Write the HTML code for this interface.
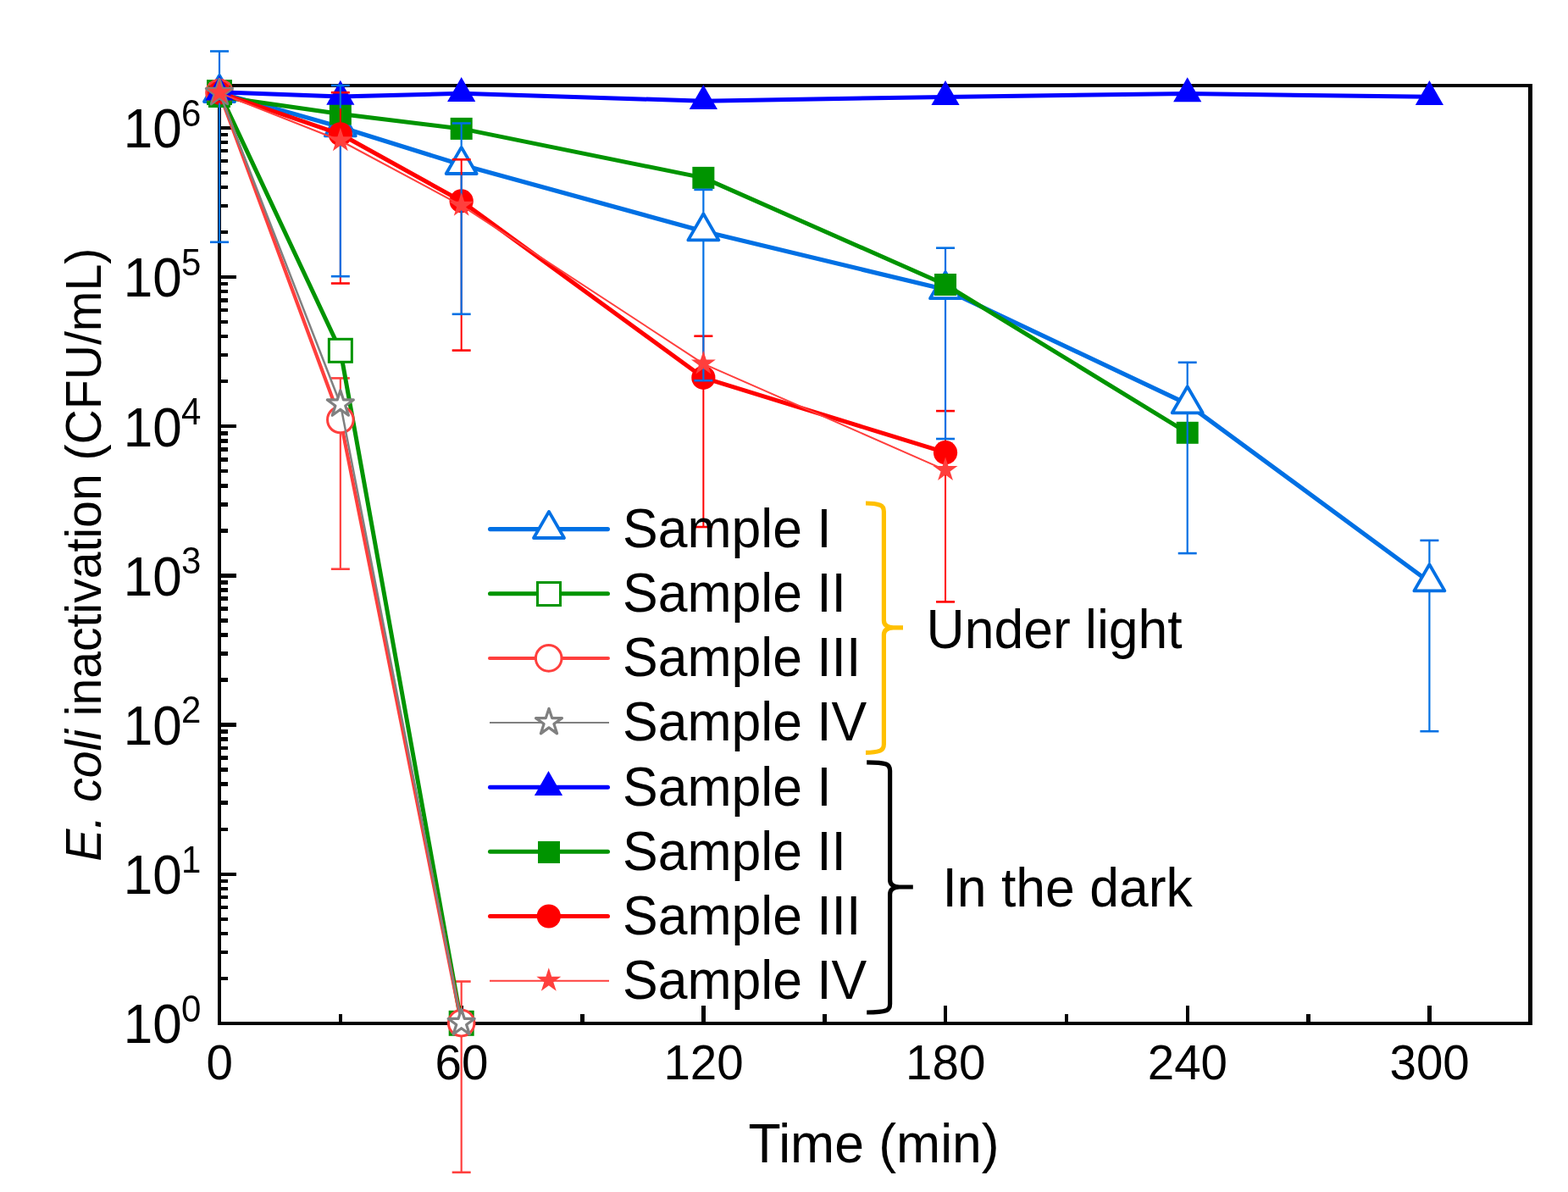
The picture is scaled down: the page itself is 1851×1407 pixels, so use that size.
<!DOCTYPE html>
<html lang="en">
<head>
<meta charset="utf-8">
<title>E. coli inactivation</title>
<style>
html,body{margin:0;padding:0;background:#fff;}
body{width:1851px;height:1407px;overflow:hidden;position:relative;}
svg text{font-kerning:normal;}
</style>
</head>
<body>
<svg width="1851" height="1407" viewBox="0 0 1851 1407" role="img" aria-label="E. coli inactivation versus time" style="display:block;position:absolute;left:0;top:0">
<rect x="0" y="0" width="1851" height="1407" fill="#fff"/>
<g fill="#000" shape-rendering="crispEdges">
<rect x="257" y="99" width="1552" height="4"/>
<rect x="257" y="1206" width="1552" height="4"/>
<rect x="257" y="99" width="4" height="1111"/>
<rect x="1804" y="99" width="5" height="1111"/>
<rect x="400" y="1197" width="4" height="9"/>
<rect x="542" y="1187" width="5" height="19"/>
<rect x="685" y="1197" width="5" height="9"/>
<rect x="828" y="1187" width="5" height="19"/>
<rect x="971" y="1197" width="5" height="9"/>
<rect x="1114" y="1187" width="4" height="19"/>
<rect x="1257" y="1197" width="4" height="9"/>
<rect x="1400" y="1187" width="4" height="19"/>
<rect x="1542" y="1197" width="5" height="9"/>
<rect x="1685" y="1187" width="5" height="19"/>
<rect x="261" y="1153" width="8" height="4"/>
<rect x="261" y="1122" width="8" height="4"/>
<rect x="261" y="1100" width="8" height="4"/>
<rect x="261" y="1083" width="8" height="4"/>
<rect x="261" y="1069" width="8" height="4"/>
<rect x="261" y="1057" width="8" height="4"/>
<rect x="261" y="1047" width="8" height="4"/>
<rect x="261" y="1038" width="8" height="4"/>
<rect x="261" y="1030" width="18" height="4"/>
<rect x="261" y="977" width="8" height="4"/>
<rect x="261" y="945" width="8" height="5"/>
<rect x="261" y="923" width="8" height="5"/>
<rect x="261" y="906" width="8" height="5"/>
<rect x="261" y="892" width="8" height="5"/>
<rect x="261" y="881" width="8" height="4"/>
<rect x="261" y="870" width="8" height="5"/>
<rect x="261" y="861" width="8" height="5"/>
<rect x="261" y="853" width="18" height="5"/>
<rect x="261" y="800" width="8" height="5"/>
<rect x="261" y="769" width="8" height="5"/>
<rect x="261" y="747" width="8" height="5"/>
<rect x="261" y="730" width="8" height="5"/>
<rect x="261" y="716" width="8" height="5"/>
<rect x="261" y="704" width="8" height="5"/>
<rect x="261" y="694" width="8" height="5"/>
<rect x="261" y="685" width="8" height="5"/>
<rect x="261" y="677" width="18" height="5"/>
<rect x="261" y="624" width="8" height="5"/>
<rect x="261" y="593" width="8" height="5"/>
<rect x="261" y="571" width="8" height="5"/>
<rect x="261" y="554" width="8" height="4"/>
<rect x="261" y="540" width="8" height="5"/>
<rect x="261" y="528" width="8" height="5"/>
<rect x="261" y="518" width="8" height="5"/>
<rect x="261" y="509" width="8" height="5"/>
<rect x="261" y="501" width="18" height="4"/>
<rect x="261" y="448" width="8" height="4"/>
<rect x="261" y="417" width="8" height="4"/>
<rect x="261" y="395" width="8" height="4"/>
<rect x="261" y="378" width="8" height="4"/>
<rect x="261" y="364" width="8" height="4"/>
<rect x="261" y="352" width="8" height="5"/>
<rect x="261" y="342" width="8" height="4"/>
<rect x="261" y="333" width="8" height="4"/>
<rect x="261" y="325" width="18" height="4"/>
<rect x="261" y="272" width="8" height="4"/>
<rect x="261" y="241" width="8" height="4"/>
<rect x="261" y="219" width="8" height="4"/>
<rect x="261" y="202" width="8" height="4"/>
<rect x="261" y="188" width="8" height="4"/>
<rect x="261" y="176" width="8" height="4"/>
<rect x="261" y="166" width="8" height="4"/>
<rect x="261" y="157" width="8" height="4"/>
<rect x="261" y="149" width="18" height="4"/>
</g>
<g font-family="'Liberation Sans', sans-serif" fill="#000">
<text transform="translate(259.2 1274.2) scale(1 1.03)" font-size="56.5" text-anchor="middle">0</text>
<text transform="translate(544.88 1274.2) scale(1 1.03)" font-size="56.5" text-anchor="middle">60</text>
<text transform="translate(830.56 1274.2) scale(1 1.03)" font-size="56.5" text-anchor="middle">120</text>
<text transform="translate(1116.24 1274.2) scale(1 1.03)" font-size="56.5" text-anchor="middle">180</text>
<text transform="translate(1401.92 1274.2) scale(1 1.03)" font-size="56.5" text-anchor="middle">240</text>
<text transform="translate(1687.6 1274.2) scale(1 1.03)" font-size="56.5" text-anchor="middle">300</text>
<text transform="translate(145.8 1231.3) scale(1 1.04)" font-size="62" text-anchor="start">10</text>
<text transform="translate(214 1205.7) scale(1 1.04)" font-size="42" text-anchor="start">0</text>
<text transform="translate(145.8 1055.1) scale(1 1.04)" font-size="62" text-anchor="start">10</text>
<text transform="translate(214 1029.5) scale(1 1.04)" font-size="42" text-anchor="start">1</text>
<text transform="translate(145.8 878.9) scale(1 1.04)" font-size="62" text-anchor="start">10</text>
<text transform="translate(214 853.3) scale(1 1.04)" font-size="42" text-anchor="start">2</text>
<text transform="translate(145.8 702.7) scale(1 1.04)" font-size="62" text-anchor="start">10</text>
<text transform="translate(214 677.1) scale(1 1.04)" font-size="42" text-anchor="start">3</text>
<text transform="translate(145.8 526.5) scale(1 1.04)" font-size="62" text-anchor="start">10</text>
<text transform="translate(214 500.9) scale(1 1.04)" font-size="42" text-anchor="start">4</text>
<text transform="translate(145.8 350.3) scale(1 1.04)" font-size="62" text-anchor="start">10</text>
<text transform="translate(214 324.7) scale(1 1.04)" font-size="42" text-anchor="start">5</text>
<text transform="translate(145.8 174.1) scale(1 1.04)" font-size="62" text-anchor="start">10</text>
<text transform="translate(214 148.5) scale(1 1.04)" font-size="42" text-anchor="start">6</text>
<text transform="translate(1031.5 1371.7) scale(1 1.03)" font-size="62.5" text-anchor="middle">Time (min)</text>
<text transform="translate(119.2 654.7) rotate(-90) scale(1 1.03)" font-size="57.15" text-anchor="middle"><tspan font-style="italic">E. coli</tspan> inactivation (CFU/mL)</text>
</g>
<polyline points="259,109.6 401.84,150 544.68,194.6 830.36,273 1116.04,341.8 1401.72,476.9 1687.4,687" fill="none" stroke="#0070E4" stroke-width="5.2" stroke-linejoin="round" stroke-linecap="butt"/>
<polygon points="259,88.9 277,120 241,120" fill="#fff" stroke="#0070E4" stroke-width="3.8" stroke-linejoin="round"/>
<polygon points="401.84,129.3 419.84,160.4 383.84,160.4" fill="#fff" stroke="#0070E4" stroke-width="3.8" stroke-linejoin="round"/>
<polygon points="544.68,173.9 562.68,205 526.68,205" fill="#fff" stroke="#0070E4" stroke-width="3.8" stroke-linejoin="round"/>
<polygon points="830.36,252.3 848.36,283.4 812.36,283.4" fill="#fff" stroke="#0070E4" stroke-width="3.8" stroke-linejoin="round"/>
<polygon points="1116.04,321.1 1134.04,352.2 1098.04,352.2" fill="#fff" stroke="#0070E4" stroke-width="3.8" stroke-linejoin="round"/>
<polygon points="1401.72,456.2 1419.72,487.3 1383.72,487.3" fill="#fff" stroke="#0070E4" stroke-width="3.8" stroke-linejoin="round"/>
<polygon points="1687.4,666.3 1705.4,697.4 1669.4,697.4" fill="#fff" stroke="#0070E4" stroke-width="3.8" stroke-linejoin="round"/>
<line x1="401.84" y1="446.4" x2="401.84" y2="671.7" stroke="#FF3F3D" stroke-width="2.2"/>
<line x1="390.84" y1="446.4" x2="412.84" y2="446.4" stroke="#FF3F3D" stroke-width="2.6"/>
<line x1="390.84" y1="671.7" x2="412.84" y2="671.7" stroke="#FF3F3D" stroke-width="2.6"/>
<line x1="544.68" y1="1158.5" x2="544.68" y2="1383.8" stroke="#FF3F3D" stroke-width="2.2"/>
<line x1="533.68" y1="1158.5" x2="555.68" y2="1158.5" stroke="#FF3F3D" stroke-width="2.6"/>
<line x1="533.68" y1="1383.8" x2="555.68" y2="1383.8" stroke="#FF3F3D" stroke-width="2.6"/>
<polyline points="259,109.1 401.84,413.8 544.68,1207.8" fill="none" stroke="#009400" stroke-width="5" stroke-linejoin="round" stroke-linecap="butt"/>
<rect x="245.5" y="95.6" width="27" height="27" fill="#fff" stroke="#009400" stroke-width="3"/>
<rect x="388.34" y="400.3" width="27" height="27" fill="#fff" stroke="#009400" stroke-width="3"/>
<rect x="531.18" y="1194.3" width="27" height="27" fill="#fff" stroke="#009400" stroke-width="3"/>
<polyline points="259,109.5 401.84,495.5 544.68,1207.6" fill="none" stroke="#FF3F3D" stroke-width="4.2" stroke-linejoin="round" stroke-linecap="butt"/>
<circle cx="259" cy="109.5" r="15.3" fill="#fff" stroke="#FF3F3D" stroke-width="3"/>
<circle cx="401.84" cy="495.5" r="15.3" fill="#fff" stroke="#FF3F3D" stroke-width="3"/>
<circle cx="544.68" cy="1207.6" r="15.3" fill="#fff" stroke="#FF3F3D" stroke-width="3"/>
<polyline points="259,114 401.84,134.5 544.68,151.9 830.36,209.9 1116.04,336 1401.72,510.8" fill="none" stroke="#009400" stroke-width="5" stroke-linejoin="round" stroke-linecap="butt"/>
<rect x="246" y="101" width="26" height="26" fill="#009400"/>
<rect x="388.84" y="121.5" width="26" height="26" fill="#009400"/>
<rect x="531.68" y="138.9" width="26" height="26" fill="#009400"/>
<rect x="817.36" y="196.9" width="26" height="26" fill="#009400"/>
<rect x="1103.04" y="323" width="26" height="26" fill="#009400"/>
<rect x="1388.72" y="497.8" width="26" height="26" fill="#009400"/>
<polyline points="259,109.5 401.84,158.3 544.68,237.4 830.36,445.8 1116.04,534.2" fill="none" stroke="#FF0000" stroke-width="5" stroke-linejoin="round" stroke-linecap="butt"/>
<circle cx="259" cy="109.5" r="14.1" fill="#FF0000"/>
<circle cx="401.84" cy="158.3" r="14.1" fill="#FF0000"/>
<circle cx="544.68" cy="237.4" r="14.1" fill="#FF0000"/>
<circle cx="830.36" cy="445.8" r="14.1" fill="#FF0000"/>
<circle cx="1116.04" cy="534.2" r="14.1" fill="#FF0000"/>
<polyline points="259,108.8 401.84,114.1 544.68,110.2 830.36,119.3 1116.04,114.4 1401.72,110.5 1687.4,114.3" fill="none" stroke="#0000FF" stroke-width="5" stroke-linejoin="round" stroke-linecap="butt"/>
<polygon points="259,89.5 275.6,118.5 242.4,118.5" fill="#0000FF"/>
<polygon points="401.84,94.8 418.44,123.8 385.24,123.8" fill="#0000FF"/>
<polygon points="544.68,90.9 561.28,119.9 528.08,119.9" fill="#0000FF"/>
<polygon points="830.36,100 846.96,129 813.76,129" fill="#0000FF"/>
<polygon points="1116.04,95.1 1132.64,124.1 1099.44,124.1" fill="#0000FF"/>
<polygon points="1401.72,91.2 1418.32,120.2 1385.12,120.2" fill="#0000FF"/>
<polygon points="1687.4,95 1704,124 1670.8,124" fill="#0000FF"/>
<line x1="401.84" y1="109.2" x2="401.84" y2="334.5" stroke="#FF0000" stroke-width="2"/>
<line x1="390.84" y1="109.2" x2="412.84" y2="109.2" stroke="#FF0000" stroke-width="2.6"/>
<line x1="390.84" y1="334.5" x2="412.84" y2="334.5" stroke="#FF0000" stroke-width="2.6"/>
<line x1="544.68" y1="188.3" x2="544.68" y2="413.6" stroke="#FF0000" stroke-width="2"/>
<line x1="533.68" y1="188.3" x2="555.68" y2="188.3" stroke="#FF0000" stroke-width="2.6"/>
<line x1="533.68" y1="413.6" x2="555.68" y2="413.6" stroke="#FF0000" stroke-width="2.6"/>
<line x1="830.36" y1="396.7" x2="830.36" y2="622" stroke="#FF0000" stroke-width="2"/>
<line x1="819.36" y1="396.7" x2="841.36" y2="396.7" stroke="#FF0000" stroke-width="2.6"/>
<line x1="819.36" y1="622" x2="841.36" y2="622" stroke="#FF0000" stroke-width="2.6"/>
<line x1="1116.04" y1="485.1" x2="1116.04" y2="710.4" stroke="#FF0000" stroke-width="2"/>
<line x1="1105.04" y1="485.1" x2="1127.04" y2="485.1" stroke="#FF0000" stroke-width="2.6"/>
<line x1="1105.04" y1="710.4" x2="1127.04" y2="710.4" stroke="#FF0000" stroke-width="2.6"/>
<line x1="259" y1="60.5" x2="259" y2="87.4" stroke="#0070E4" stroke-width="2.2"/>
<line x1="259" y1="121.5" x2="259" y2="285.8" stroke="#0070E4" stroke-width="2.2"/>
<line x1="248" y1="60.5" x2="270" y2="60.5" stroke="#0070E4" stroke-width="2.6"/>
<line x1="248" y1="285.8" x2="270" y2="285.8" stroke="#0070E4" stroke-width="2.6"/>
<line x1="401.84" y1="100.9" x2="401.84" y2="127.8" stroke="#0070E4" stroke-width="2.2"/>
<line x1="401.84" y1="161.9" x2="401.84" y2="326.2" stroke="#0070E4" stroke-width="2.2"/>
<line x1="390.84" y1="100.9" x2="412.84" y2="100.9" stroke="#0070E4" stroke-width="2.6"/>
<line x1="390.84" y1="326.2" x2="412.84" y2="326.2" stroke="#0070E4" stroke-width="2.6"/>
<line x1="544.68" y1="145.5" x2="544.68" y2="172.4" stroke="#0070E4" stroke-width="2.2"/>
<line x1="544.68" y1="206.5" x2="544.68" y2="370.8" stroke="#0070E4" stroke-width="2.2"/>
<line x1="533.68" y1="145.5" x2="555.68" y2="145.5" stroke="#0070E4" stroke-width="2.6"/>
<line x1="533.68" y1="370.8" x2="555.68" y2="370.8" stroke="#0070E4" stroke-width="2.6"/>
<line x1="830.36" y1="223.9" x2="830.36" y2="250.8" stroke="#0070E4" stroke-width="2.2"/>
<line x1="830.36" y1="284.9" x2="830.36" y2="449.2" stroke="#0070E4" stroke-width="2.2"/>
<line x1="819.36" y1="223.9" x2="841.36" y2="223.9" stroke="#0070E4" stroke-width="2.6"/>
<line x1="819.36" y1="449.2" x2="841.36" y2="449.2" stroke="#0070E4" stroke-width="2.6"/>
<line x1="1116.04" y1="292.7" x2="1116.04" y2="319.6" stroke="#0070E4" stroke-width="2.2"/>
<line x1="1116.04" y1="353.7" x2="1116.04" y2="518" stroke="#0070E4" stroke-width="2.2"/>
<line x1="1105.04" y1="292.7" x2="1127.04" y2="292.7" stroke="#0070E4" stroke-width="2.6"/>
<line x1="1105.04" y1="518" x2="1127.04" y2="518" stroke="#0070E4" stroke-width="2.6"/>
<line x1="1401.72" y1="427.8" x2="1401.72" y2="454.7" stroke="#0070E4" stroke-width="2.2"/>
<line x1="1401.72" y1="488.8" x2="1401.72" y2="653.1" stroke="#0070E4" stroke-width="2.2"/>
<line x1="1390.72" y1="427.8" x2="1412.72" y2="427.8" stroke="#0070E4" stroke-width="2.6"/>
<line x1="1390.72" y1="653.1" x2="1412.72" y2="653.1" stroke="#0070E4" stroke-width="2.6"/>
<line x1="1687.4" y1="637.9" x2="1687.4" y2="664.8" stroke="#0070E4" stroke-width="2.2"/>
<line x1="1687.4" y1="698.9" x2="1687.4" y2="863.2" stroke="#0070E4" stroke-width="2.2"/>
<line x1="1676.4" y1="637.9" x2="1698.4" y2="637.9" stroke="#0070E4" stroke-width="2.6"/>
<line x1="1676.4" y1="863.2" x2="1698.4" y2="863.2" stroke="#0070E4" stroke-width="2.6"/>
<polyline points="259,109.5 401.84,477 544.68,1207.5" fill="none" stroke="#808080" stroke-width="2.5" stroke-linejoin="round" stroke-linecap="butt"/>
<polygon points="259,93.2 262.66,104.46 274.5,104.46 264.92,111.42 268.58,122.69 259,115.73 249.42,122.69 253.08,111.42 243.5,104.46 255.34,104.46" fill="#fff" stroke="#808080" stroke-width="3.2" stroke-linejoin="round"/>
<polygon points="401.84,460.7 405.5,471.96 417.34,471.96 407.76,478.92 411.42,490.19 401.84,483.23 392.26,490.19 395.92,478.92 386.34,471.96 398.18,471.96" fill="#fff" stroke="#808080" stroke-width="3.2" stroke-linejoin="round"/>
<polygon points="544.68,1191.2 548.34,1202.46 560.18,1202.46 550.6,1209.42 554.26,1220.69 544.68,1213.73 535.1,1220.69 538.76,1209.42 529.18,1202.46 541.02,1202.46" fill="#fff" stroke="#808080" stroke-width="3.2" stroke-linejoin="round"/>
<polyline points="259,109.5 401.84,166 544.68,242.5 830.36,429.3 1116.04,554.8" fill="none" stroke="#FF3F3D" stroke-width="2" stroke-linejoin="round" stroke-linecap="butt"/>
<polygon points="259,94.3 262.41,104.8 273.46,104.8 264.52,111.29 267.93,121.8 259,115.31 250.07,121.8 253.48,111.29 244.54,104.8 255.59,104.8" fill="#FF3F3D"/>
<polygon points="401.84,150.8 405.25,161.3 416.3,161.3 407.36,167.79 410.77,178.3 401.84,171.81 392.91,178.3 396.32,167.79 387.38,161.3 398.43,161.3" fill="#FF3F3D"/>
<polygon points="544.68,227.3 548.09,237.8 559.14,237.8 550.2,244.29 553.61,254.8 544.68,248.31 535.75,254.8 539.16,244.29 530.22,237.8 541.27,237.8" fill="#FF3F3D"/>
<polygon points="830.36,414.1 833.77,424.6 844.82,424.6 835.88,431.09 839.29,441.6 830.36,435.11 821.43,441.6 824.84,431.09 815.9,424.6 826.95,424.6" fill="#FF3F3D"/>
<polygon points="1116.04,539.6 1119.45,550.1 1130.5,550.1 1121.56,556.59 1124.97,567.1 1116.04,560.61 1107.11,567.1 1110.52,556.59 1101.58,550.1 1112.63,550.1" fill="#FF3F3D"/>
<line x1="578.6" y1="624.6" x2="717.4" y2="624.6" stroke="#0070E4" stroke-width="5.2" stroke-linecap="round"/>
<polygon points="648,603.9 666,635 630,635" fill="#fff" stroke="#0070E4" stroke-width="3.8" stroke-linejoin="round"/>
<line x1="578.5" y1="700.75" x2="717.5" y2="700.75" stroke="#009400" stroke-width="5" stroke-linecap="round"/>
<rect x="634.5" y="687.55" width="27" height="27" fill="#fff" stroke="#009400" stroke-width="3"/>
<line x1="578" y1="776.9" x2="718" y2="776.9" stroke="#FF3F3D" stroke-width="4" stroke-linecap="round"/>
<circle cx="647.7" cy="776.9" r="15.3" fill="#fff" stroke="#FF3F3D" stroke-width="3"/>
<line x1="578" y1="853.05" x2="719" y2="853.05" stroke="#808080" stroke-width="2"/>
<polygon points="648,836.35 651.66,847.61 663.5,847.61 653.92,854.57 657.58,865.84 648,858.88 638.42,865.84 642.08,854.57 632.5,847.61 644.34,847.61" fill="#fff" stroke="#808080" stroke-width="3.2" stroke-linejoin="round"/>
<line x1="578.5" y1="929.2" x2="717.5" y2="929.2" stroke="#0000FF" stroke-width="5" stroke-linecap="round"/>
<polygon points="647.5,909.9 664.1,938.9 630.9,938.9" fill="#0000FF"/>
<line x1="578.5" y1="1005.35" x2="717.5" y2="1005.35" stroke="#009400" stroke-width="5" stroke-linecap="round"/>
<rect x="635" y="992.95" width="26" height="26" fill="#009400"/>
<line x1="578.5" y1="1081.5" x2="717.5" y2="1081.5" stroke="#FF0000" stroke-width="5" stroke-linecap="round"/>
<circle cx="647.8" cy="1081.5" r="14.1" fill="#FF0000"/>
<line x1="578" y1="1157.65" x2="719" y2="1157.65" stroke="#FF3F3D" stroke-width="2"/>
<polygon points="647.8,1142.15 651.21,1152.65 662.26,1152.65 653.32,1159.14 656.73,1169.65 647.8,1163.16 638.87,1169.65 642.28,1159.14 633.34,1152.65 644.39,1152.65" fill="#FF3F3D"/>
<g font-family="'Liberation Sans', sans-serif" fill="#000" font-size="62.5">
<text transform="translate(735 645.9) scale(1 1.03)" font-size="62.5" text-anchor="start">Sample I</text>
<text transform="translate(735 722.05) scale(1 1.03)" font-size="62.5" text-anchor="start">Sample II</text>
<text transform="translate(735 798.2) scale(1 1.03)" font-size="62.5" text-anchor="start">Sample III</text>
<text transform="translate(735 874.35) scale(1 1.03)" font-size="62.5" text-anchor="start">Sample IV</text>
<text transform="translate(735 950.5) scale(1 1.03)" font-size="62.5" text-anchor="start">Sample I</text>
<text transform="translate(735 1026.65) scale(1 1.03)" font-size="62.5" text-anchor="start">Sample II</text>
<text transform="translate(735 1102.8) scale(1 1.03)" font-size="62.5" text-anchor="start">Sample III</text>
<text transform="translate(735 1178.95) scale(1 1.03)" font-size="62.5" text-anchor="start">Sample IV</text>
<text transform="translate(1093.5 765.2) scale(1 1.03)" font-size="62.5" text-anchor="start">Under light</text>
<text transform="translate(1112.5 1069.8) scale(1 1.03)" font-size="62.5" text-anchor="start">In the dark</text>
</g>
<path d="M 1022 594 C 1030.56 594 1034.4 594.6 1038.9 596.2 C 1041.9 597.4 1043.4 600 1043.4 604 L 1043.4 732.3 C 1043.4 737.3 1046.9 740.5 1054.4 740.8 L 1066 740.8 M 1022 888.3 C 1030.56 888.3 1034.4 887.7 1038.9 886.1 C 1041.9 884.9 1043.4 882.3 1043.4 878.3 L 1043.4 749.3 C 1043.4 744.3 1046.9 741.1 1054.4 740.8 L 1066 740.8" fill="none" stroke="#FFC000" stroke-width="5.2" stroke-linecap="butt" stroke-linejoin="round"/>
<path d="M 1023.2 899.8 C 1034.16 899.8 1041.6 900.4 1046.1 902 C 1049.1 903.2 1050.6 905.8 1050.6 909.8 L 1050.6 1038.5 C 1050.6 1043.5 1054.1 1046.7 1061.6 1047 L 1077.8 1047 M 1023.2 1195 C 1034.16 1195 1041.6 1194.4 1046.1 1192.8 C 1049.1 1191.6 1050.6 1189 1050.6 1185 L 1050.6 1055.5 C 1050.6 1050.5 1054.1 1047.3 1061.6 1047 L 1077.8 1047" fill="none" stroke="#000" stroke-width="5.2" stroke-linecap="butt" stroke-linejoin="round"/>
</svg>
</body>
</html>
